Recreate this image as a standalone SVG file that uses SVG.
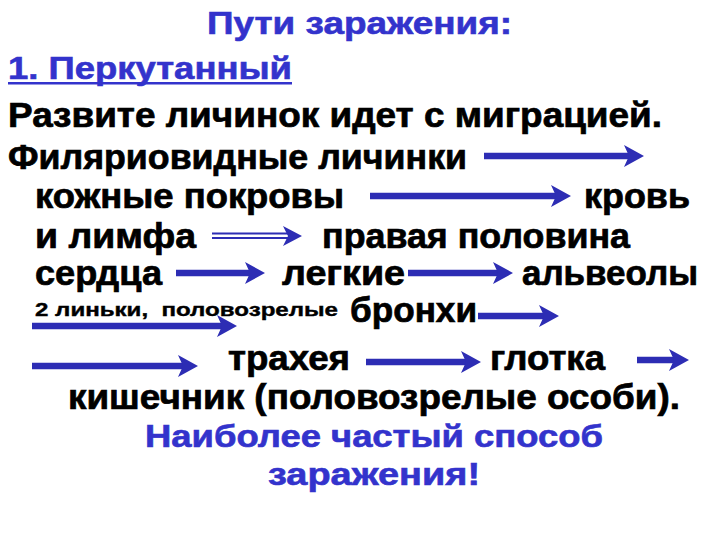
<svg xmlns="http://www.w3.org/2000/svg" width="720" height="540" viewBox="0 0 720 540">
<defs>
<style>
text { font-family: "Liberation Sans", Arial, sans-serif; font-weight: bold; }
.b { fill: #000000; stroke: #000000; stroke-width: 0.7; font-size: 35px; }
.bl { fill: #3333cc; stroke: #3333cc; stroke-width: 0.6; font-size: 31px; }
.sm { fill: #000000; stroke: #000000; stroke-width: 0.4; font-size: 19px; }
.ar { stroke: #2d2db4; stroke-width: 6.5; fill: none; marker-end: url(#head); }
.thin { stroke: #2d2db4; stroke-width: 1.8; fill: none; }
.hd { fill: #2d2db4; }
</style>
<marker id="head" markerUnits="userSpaceOnUse" markerWidth="21" markerHeight="24" viewBox="0 -12 21 24" refX="8" refY="0" orient="auto">
<path d="M0,-11 L20,0 L0,11 L5,0 Z" fill="#2d2db4"/>
</marker>
</defs>
<rect x="0" y="0" width="720" height="540" fill="#ffffff"/>

<g id="title"><text class="bl" x="207" y="34" textLength="305" lengthAdjust="spacingAndGlyphs">Пути заражения:</text></g>
<g id="route1"><text class="bl" x="8" y="79" textLength="284" lengthAdjust="spacingAndGlyphs">1. Перкутанный</text>
<rect x="8" y="82" width="284" height="2.5" fill="#3333cc"/></g>
<g id="line-development"><text class="b" x="8" y="127" textLength="654" lengthAdjust="spacingAndGlyphs">Развите личинок идет с миграцией.</text></g>
<g id="node-filariform"><text class="b" x="8" y="169" textLength="459" lengthAdjust="spacingAndGlyphs">Филяриовидные личинки</text></g>
<g id="node-skin"><text class="b" x="35" y="208" textLength="309" lengthAdjust="spacingAndGlyphs">кожные покровы</text></g>
<g id="node-blood"><text class="b" x="584" y="208" textLength="106" lengthAdjust="spacingAndGlyphs">кровь</text></g>
<g id="node-lymph"><text class="b" x="35" y="248" textLength="161" lengthAdjust="spacingAndGlyphs">и лимфа</text></g>
<g id="node-right-heart"><text class="b" x="322" y="248" textLength="308" lengthAdjust="spacingAndGlyphs">правая половина</text>
<text class="b" x="35" y="285" textLength="127" lengthAdjust="spacingAndGlyphs">сердца</text></g>
<g id="node-lungs"><text class="b" x="282" y="285" textLength="123" lengthAdjust="spacingAndGlyphs">легкие</text></g>
<g id="node-alveoli"><text class="b" x="522" y="285" textLength="176" lengthAdjust="spacingAndGlyphs">альвеолы</text></g>
<g id="label-molts"><text class="sm" x="35" y="316" textLength="303" lengthAdjust="spacingAndGlyphs" xml:space="preserve">2 линьки,  половозрелые</text></g>
<g id="node-bronchi"><text class="b" x="350" y="322" textLength="127" lengthAdjust="spacingAndGlyphs">бронхи</text></g>
<g id="node-trachea"><text class="b" x="228" y="370" textLength="122" lengthAdjust="spacingAndGlyphs">трахея</text></g>
<g id="node-pharynx"><text class="b" x="490" y="370" textLength="115" lengthAdjust="spacingAndGlyphs">глотка</text></g>
<g id="node-intestine"><text class="b" x="68" y="409" textLength="612" lengthAdjust="spacingAndGlyphs">кишечник (половозрелые особи).</text></g>
<g id="note"><text class="bl" x="145" y="447" textLength="458" lengthAdjust="spacingAndGlyphs">Наиболее частый способ</text>
<text class="bl" x="268" y="485" textLength="212" lengthAdjust="spacingAndGlyphs">заражения!</text></g>

<g id="connectors">
<line class="ar" x1="484" y1="156" x2="632" y2="156"/>
<line class="ar" x1="370" y1="196" x2="559" y2="196"/>
<line class="thin" x1="212" y1="233.5" x2="292" y2="233.5"/>
<line class="thin" x1="212" y1="238" x2="292" y2="238"/>
<path class="hd" d="M283,226 L302,236 L283,246 L288,236 Z"/>
<line class="ar" x1="176" y1="273" x2="253" y2="273"/>
<line class="ar" x1="408" y1="273" x2="501" y2="273"/>
<line class="ar" x1="478" y1="316" x2="547" y2="316"/>
<line class="ar" x1="32" y1="326" x2="225" y2="326"/>
<line class="ar" x1="32" y1="366" x2="186" y2="366"/>
<line class="ar" x1="366" y1="362" x2="469" y2="362"/>
<line class="ar" x1="637" y1="360" x2="677" y2="360"/>
</g>
</svg>
